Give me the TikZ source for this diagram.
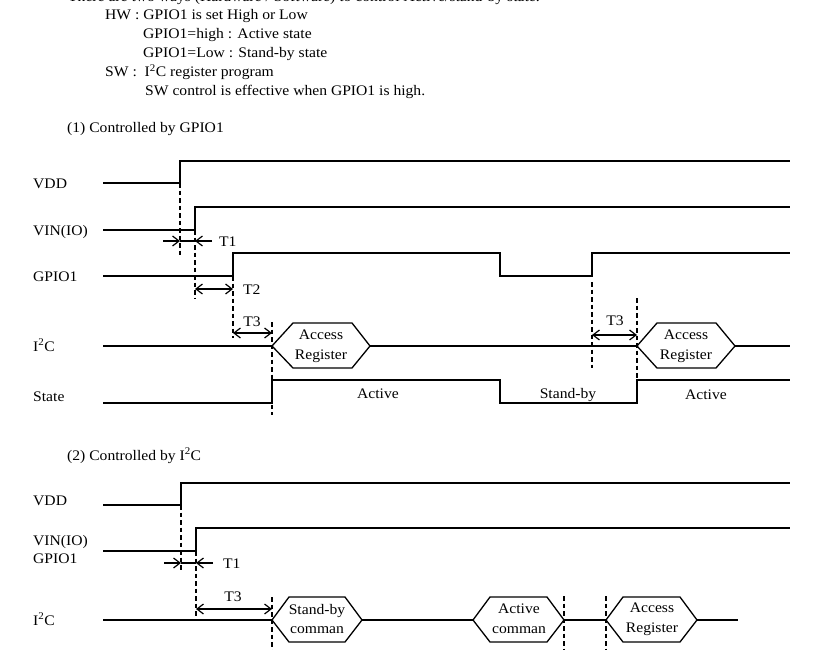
\documentclass[tikz,border=0pt]{standalone}
\usepackage{fontspec}
\setmainfont{Liberation Serif}[FakeStretch=1.07]
\usetikzlibrary{arrows.meta}
\newcommand\dfont{\fontsize{14.6}{20}\selectfont}
\begin{document}
\begin{tikzpicture}[x=1pt,y=-1pt,
  sig/.style={line width=1.3pt},
  guide/.style={line width=1.25pt,dash pattern=on 4.5pt off 3pt},
  dimline/.style={line width=1.2pt},
  onetip/.style={dimline,-{Straight Barb[length=6.5pt,width=10pt]}},
  twotips/.style={dimline,{Straight Barb[length=6.5pt,width=10pt]}-{Straight Barb[length=6.5pt,width=10pt]}},
  txt/.style={inner sep=0pt,anchor=base west,font=\dfont},
  ctr/.style={inner sep=0pt,font=\dfont,align=center}
]
\useasboundingbox (0,0) rectangle (819,650);

% header text
\node[txt] (l0) at (68,1.5) {There are two ways (Hardware / Software) to control Active/stand-by state.};
\node[txt] (l1) at (105,20) {HW : GPIO1 is set High or Low};
\node[txt] (l2) at (143,38.5) {GPIO1=high : Active state};
\node[txt] (l3) at (143,57.5) {GPIO1=Low : Stand-by state};
\node[txt] (l4) at (105,77) {SW :\ \ I\textsuperscript{2}C register program};
\node[txt] (l5) at (145,95.5) {SW control is effective when GPIO1 is high.};

% ---------- section 1 ----------
\node[txt] (s1) at (67,133) {(1) Controlled by GPIO1};
\node[txt] (a1) at (33,188) {VDD};
\node[txt] (a2) at (33,235) {VIN(IO)};
\node[txt] (a3) at (33,281) {GPIO1};
\node[txt] (a4) at (33,351) {I\textsuperscript{2}C};
\node[txt] (a5) at (33,401) {State};

\draw[sig] (103,183) -- (180,183) -- (180,161) -- (790,161);
\draw[sig] (103,230) -- (195,230) -- (195,207) -- (790,207);
\draw[sig] (103,276) -- (233,276) -- (233,253) -- (500,253) -- (500,276) -- (592,276) -- (592,253) -- (790,253);
\draw[sig] (103,346) -- (272,346);
\draw[sig] (272,346) -- (293,323) -- (352,323) -- (370,346) -- (352,368) -- (293,368) -- cycle;
\draw[sig] (370,346) -- (637,346);
\draw[sig] (637,346) -- (657,323) -- (716,323) -- (735,346) -- (716,368) -- (657,368) -- cycle;
\draw[sig] (735,346) -- (790,346);
\draw[sig] (103,403) -- (272,403) -- (272,380) -- (500,380) -- (500,403) -- (637,403) -- (637,380) -- (790,380);

\node[ctr] (h1) at (321,346) {Access\\Register};
\node[ctr] (h2) at (686,346) {Access\\Register};
\node[ctr] (st1) at (378,394) {Active};
\node[ctr] (st2) at (568,395) {Stand-by};
\node[ctr] (st3) at (706,395) {Active};

\draw[guide] (180,183) -- (180,256);
\draw[guide] (195,230) -- (195,299);
\draw[guide] (233,276) -- (233,338);
\draw[guide] (272,322) -- (272,415);
\draw[guide] (592,282) -- (592,368);
\draw[guide] (637,298) -- (637,380);

\coordinate (t1a) at (163,241);
\coordinate (t1b) at (180,241);
\coordinate (t1c) at (195,241);
\coordinate (t1d) at (212,241);
\draw[onetip] (t1a) -- (t1b);
\draw[onetip] (t1d) -- (t1c);
\draw[dimline] (t1b) -- (t1c);
\node[txt] (T1) at (219,246) {T1};

\coordinate (t2a) at (195,289);
\coordinate (t2b) at (233,289);
\draw[twotips] (t2a) -- (t2b);
\node[txt] (T2) at (243,294) {T2};

\coordinate (t3a) at (233,333);
\coordinate (t3b) at (272,333);
\draw[twotips] (t3a) -- (t3b);
\node[ctr] (T3) at (252,322) {T3};

\coordinate (t4a) at (592,335);
\coordinate (t4b) at (637,335);
\draw[twotips] (t4a) -- (t4b);
\node[ctr] (T3b) at (615,321) {T3};

% ---------- section 2 ----------
\node[txt] (s2) at (67,460) {(2) Controlled by I\textsuperscript{2}C};
\node[txt] (b1) at (33,505) {VDD};
\node[txt] (b2) at (33,545) {VIN(IO)};
\node[txt] (b3) at (33,563) {GPIO1};
\node[txt] (b4) at (33,625) {I\textsuperscript{2}C};

\draw[sig] (103,505) -- (181,505) -- (181,483) -- (790,483);
\draw[sig] (103,551) -- (196,551) -- (196,528) -- (790,528);
\draw[sig] (103,620) -- (272,620);
\draw[sig] (272,620) -- (289,597) -- (345,597) -- (362,620) -- (345,642) -- (289,642) -- cycle;
\draw[sig] (362,620) -- (473,620);
\draw[sig] (473,620) -- (490,597) -- (547,597) -- (564,620) -- (547,642) -- (490,642) -- cycle;
\draw[sig] (564,620) -- (606,620);
\draw[sig] (606,620) -- (623,597) -- (680,597) -- (697,620) -- (680,642) -- (623,642) -- cycle;
\draw[sig] (697,620) -- (738,620);

\node[ctr] (k1) at (317,619) {Stand-by\\comman};
\node[ctr] (k2) at (519,619) {Active\\comman};
\node[ctr] (k3) at (652,619) {Access\\Register};

\draw[guide] (181,505) -- (181,572);
\draw[guide] (196,551) -- (196,617);
\draw[guide] (272,597) -- (272,650);
\draw[guide] (564,596) -- (564,650);
\draw[guide] (606,596) -- (606,650);

\coordinate (u1a) at (164,563);
\coordinate (u1b) at (181,563);
\coordinate (u1c) at (196,563);
\coordinate (u1d) at (213,563);
\draw[onetip] (u1a) -- (u1b);
\draw[onetip] (u1d) -- (u1c);
\draw[dimline] (u1b) -- (u1c);
\node[txt] (U1) at (223,568) {T1};

\coordinate (u3a) at (196,609);
\coordinate (u3b) at (272,609);
\draw[twotips] (u3a) -- (u3b);
\node[ctr] (U3) at (233,597) {T3};
\end{tikzpicture}
\end{document}
